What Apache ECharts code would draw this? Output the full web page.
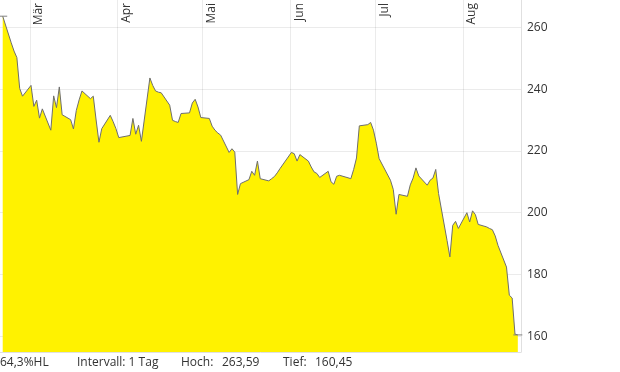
<!DOCTYPE html>
<html><head><meta charset="utf-8">
<script src="https://cdn.jsdelivr.net/npm/echarts@6/dist/echarts.min.js"></script>
<style>html,body{margin:0;padding:0;background:#fff}#c{width:620px;height:372px}</style>
</head><body><div id="c"></div>
<script>
// ---- data ----
const startDate = '2021-02-19';
const endDate = '2021-08-20';
const holidays = ['2021-04-02', '2021-05-31', '2021-07-05'];
const monthNames = ['Mär', 'Apr', 'Mai', 'Jun', 'Jul', 'Aug'];
const monthStarts = ['2021-03-01', '2021-04-01', '2021-05-01', '2021-06-01', '2021-07-01', '2021-08-01'];
const yTicks = [160, 180, 200, 220, 240, 260];
const prices = [
  // Feb
  263.59, 255.0, 252.3, 250.2, 240.2, 237.7,
  // Mar
  241.2, 234.4, 236.4, 230.6, 233.6,
  226.7, 237.8, 234.0, 240.7, 231.7,
  230.1, 227.1, 233.1, 236.5, 239.4,
  236.9, 237.7, 230.0, 222.8, 227.2,
  231.5, 229.5, 227.2,
  // Apr
  224.3,
  225.0, 230.5, 225.4, 228.3, 223.1,
  243.6, 241.2, 239.4, 239.0, 238.8,
  234.8, 229.9, 229.5, 229.2, 232.1,
  232.3, 235.5, 236.7, 234.2, 230.8,
  // May
  230.5, 228.0, 226.7, 225.8, 225.1,
  219.5, 220.7, 219.6, 205.9, 209.4,
  210.7, 213.4, 212.1, 216.7, 211.0,
  210.3, 211.0, 211.7, 212.9, 214.3,
  // Jun
  219.5, 219.1, 216.7, 218.8,
  216.7, 214.8, 213.2, 212.7, 211.4,
  213.4, 210.0, 209.2, 211.8, 212.1,
  211.3, 211.0, 214.0, 217.7, 228.1,
  228.5, 229.2, 226.7,
  // Jul
  222.5, 217.5,
  210.5, 207.5, 199.5, 205.9,
  205.3, 209.0, 211.2, 214.5, 211.9,
  208.9, 210.5, 211.2, 214.0, 206.2,
  191.0, 185.7, 195.9, 197.2, 194.9,
  // Aug
  200.0, 197.0, 200.6, 199.4, 196.2,
  195.4, 194.9, 194.5, 192.5, 189.4,
  182.4, 173.3, 172.4, 160.7, 160.45
];
const footerTexts = ['64,3%HL', 'Intervall: 1 Tag', 'Hoch:', '263,59', 'Tief:', '160,45'];

// ---- trading dates (weekdays without exchange holidays) ----
const DAY = 86400000;
const dates = [];
for (let t = Date.parse(startDate + 'T00:00:00Z'); t <= Date.parse(endDate + 'T00:00:00Z'); t += DAY) {
  const d = new Date(t);
  const wd = d.getUTCDay();
  const iso = d.toISOString().slice(0, 10);
  if (wd === 0 || wd === 6 || holidays.indexOf(iso) >= 0) continue;
  dates.push(t + 9 * 3600000);
}
const monthTs = monthStarts.map(s => Date.parse(s + 'T00:00:00Z'));
const seriesData = dates.map((t, i) => [t, prices[i]]);

// ---- layout ----
const xMin = Date.UTC(2021, 1, 18, 10);
const xMax = Date.UTC(2021, 7, 21, 12);
const footerX = [0, 77, 181, 222, 283, 315];
const gridColor = 'rgba(0,0,0,0.08)';
const font = '"Open Sans", "Noto Sans", sans-serif';

const chart = echarts.init(document.getElementById('c'), null, {renderer: 'canvas'});
chart.setOption({
  animation: false,
  backgroundColor: '#fff',
  grid: {left: 0, right: 99, top: 0, bottom: 20, containLabel: false, outerBoundsMode: 'none'},
  xAxis: [{
    type: 'value', position: 'top', min: xMin, max: xMax, z: 3, scale: true,
    axisLine: {show: false},
    axisTick: {show: false, customValues: monthTs},
    splitLine: {show: true, lineStyle: {color: gridColor, width: 1}},
    axisLabel: {show: false, customValues: monthTs}
  }, {
    type: 'value', position: 'bottom', min: xMin, max: xMax, z: 3, scale: true,
    axisLine: {show: true, lineStyle: {color: '#e0e0e0', width: 1}},
    axisTick: {show: false}, axisLabel: {show: false}, splitLine: {show: false}
  }],
  yAxis: {
    type: 'value', position: 'right', min: 154.92, max: 268.83, z: 3,
    axisLine: {show: true, lineStyle: {color: '#e0e0e0', width: 1}},
    axisTick: {show: false, customValues: yTicks},
    splitLine: {show: true, lineStyle: {color: gridColor, width: 1}},
    axisLabel: {show: true, customValues: yTicks, margin: 6, color: '#333', fontSize: 12, fontFamily: font}
  },
  series: [{
    type: 'line', xAxisIndex: 0, data: seriesData, symbol: 'none', showSymbol: false,
    lineStyle: {color: '#6e6e6e', width: 1},
    areaStyle: {color: '#fff200', opacity: 1, origin: 'start'},
    markPoint: {
      symbol: 'rect', symbolSize: [9, 1], silent: true,
      itemStyle: {color: '#808080'}, label: {show: false},
      data: [{coord: seriesData[0]}, {coord: seriesData[seriesData.length - 1]}]
    },
    markLine: {
      silent: true, symbol: 'none', z: 4, animation: false,
      lineStyle: {color: 'rgba(0,0,0,0)', width: 1, type: 'solid'},
      emphasis: {disabled: true},
      label: {
        show: true, position: 'insideEndBottom', formatter: '{b}', distance: 3,
        color: '#333', fontSize: 12, fontFamily: font
      },
      data: monthTs.map((t, i) => ({xAxis: t, name: monthNames[i]}))
    }
  }],
  graphic: footerTexts.map((txt, i) => ({
    type: 'text', x: footerX[i], y: 363,
    style: {text: txt, fill: '#333', font: '12px ' + font, verticalAlign: 'middle', align: 'left'}
  }))
});
</script></body></html>
